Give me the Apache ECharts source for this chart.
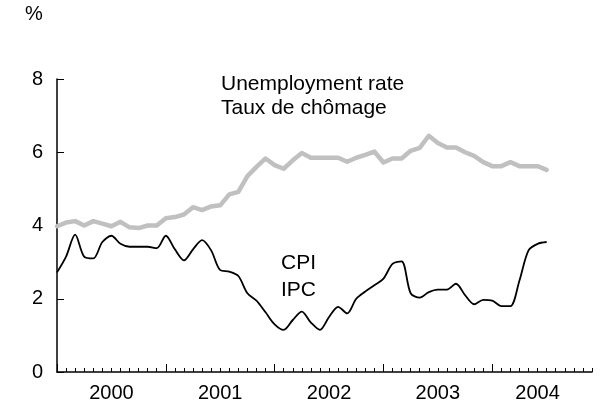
<!DOCTYPE html>
<html>
<head>
<meta charset="utf-8">
<script src="https://cdn.jsdelivr.net/npm/echarts@6/dist/echarts.min.js"></script>
<style>
html,body{margin:0;padding:0;background:#fff;}
#chart{width:600px;height:406px;}
</style>
</head>
<body>
<div id="chart"></div>
<script>
// Tick labels (years) and monthly categories
const yearLabels = ['2000', '2001', '2002', '2003', '2004'];
const monthNames = ['01','02','03','04','05','06','07','08','09','10','11','12'];

// Unemployment rate / Taux de chômage (%), monthly from Jan 2000
const unemployment = [
  3.98, 4.08, 4.12, 4.00, 4.12, 4.05, 3.98, 4.10, 3.95, 3.93, 4.00, 4.00,
  4.20, 4.23, 4.30, 4.50, 4.42, 4.52, 4.55, 4.85, 4.92, 5.35, 5.60, 5.83,
  5.65, 5.55, 5.78, 5.98, 5.85, 5.85, 5.85, 5.85, 5.74, 5.85, 5.93, 6.02,
  5.72, 5.83, 5.83, 6.04, 6.12, 6.45, 6.25, 6.13, 6.13, 6.00, 5.90, 5.73,
  5.62, 5.62, 5.73, 5.62, 5.62, 5.62, 5.52
];

// CPI / IPC (%), monthly from Jan 2000
const cpi = [
  2.72, 3.15, 3.75, 3.15, 3.10, 3.55, 3.72, 3.50, 3.42, 3.42, 3.42, 3.38,
  3.72, 3.35, 3.05, 3.35, 3.60, 3.32, 2.78, 2.74, 2.62, 2.15, 1.95, 1.63,
  1.30, 1.15, 1.42, 1.65, 1.35, 1.15, 1.50, 1.78, 1.60, 2.00, 2.20, 2.37,
  2.55, 2.95, 3.02, 2.15, 2.03, 2.18, 2.25, 2.25, 2.41, 2.10, 1.85, 1.97,
  1.95, 1.80, 1.80, 2.50, 3.32, 3.50, 3.55
];

const yTicks = { min: 0, max: 8, interval: 2 };

const months = [];
yearLabels.forEach(y => monthNames.forEach(m => months.push(y + '-' + m)));
const lastIdx = months.length - 1;
// label each year at the middle of its segment on the axis
const labelAt = (i) => {
  const start = Math.floor(i / 12) * 12;
  const end = Math.min(start + 12, lastIdx);
  return i === Math.floor((start + end) / 2);
};

const FONT = '"Liberation Sans", Arial, Helvetica, sans-serif';
const chart = echarts.init(document.getElementById('chart'), null, { renderer: 'canvas' });

chart.setOption({
  animation: false,
  backgroundColor: '#ffffff',
  grid: { left: 57, right: 8, top: 79, bottom: 34, containLabel: false },
  xAxis: [
    {
      type: 'category',
      data: months,
      boundaryGap: false,
      axisLine: { show: true, lineStyle: { color: '#000', width: 1.5 } },
      axisTick: { show: true, inside: true, length: 4, interval: 0, lineStyle: { color: '#000', width: 1 } },
      axisLabel: { show: false },
      splitLine: { show: false }
    },
    {
      type: 'category',
      data: months,
      boundaryGap: false,
      position: 'bottom',
      axisLine: { show: false },
      axisTick: {
        show: true, inside: true, length: 8,
        interval: (i) => i % 12 === 0,
        lineStyle: { color: '#000', width: 1 }
      },
      axisLabel: {
        show: true,
        interval: (i) => labelAt(i),
        formatter: (v) => v.slice(0, 4),
        color: '#000',
        fontFamily: FONT,
        fontSize: 20,
        margin: 11
      },
      splitLine: { show: false }
    }
  ],
  yAxis: {
    type: 'value',
    min: yTicks.min,
    max: yTicks.max,
    interval: yTicks.interval,
    axisLine: { show: true, lineStyle: { color: '#000', width: 1.5 } },
    axisTick: { show: true, inside: true, length: 7, lineStyle: { color: '#000', width: 1 } },
    axisLabel: { color: '#000', fontFamily: FONT, fontSize: 20, margin: 14 },
    splitLine: { show: false }
  },
  series: [
    {
      name: 'Unemployment rate',
      type: 'line',
      xAxisIndex: 0,
      data: unemployment,
      showSymbol: false,
      symbol: 'none',
      lineStyle: { color: '#c0c0c0', width: 4.5, join: 'round', cap: 'round' },
      z: 2
    },
    {
      name: 'CPI',
      type: 'line',
      xAxisIndex: 0,
      data: cpi,
      showSymbol: false,
      symbol: 'none',
      smooth: 0.3,
      lineStyle: { color: '#000', width: 1.8 },
      z: 3
    }
  ],
  graphic: [
    { type: 'text', left: 25, top: 4, style: { text: '%', font: '20px ' + FONT, fill: '#000' } },
    { type: 'text', left: 221, top: 74, style: { text: 'Unemployment rate', font: '21px ' + FONT, fill: '#000' } },
    { type: 'text', left: 221, top: 98, style: { text: 'Taux de chômage', font: '21px ' + FONT, fill: '#000' } },
    { type: 'text', left: 281, top: 253, style: { text: 'CPI', font: '21px ' + FONT, fill: '#000' } },
    { type: 'text', left: 281, top: 280, style: { text: 'IPC', font: '21px ' + FONT, fill: '#000' } }
  ]
});
</script>
</body>
</html>
